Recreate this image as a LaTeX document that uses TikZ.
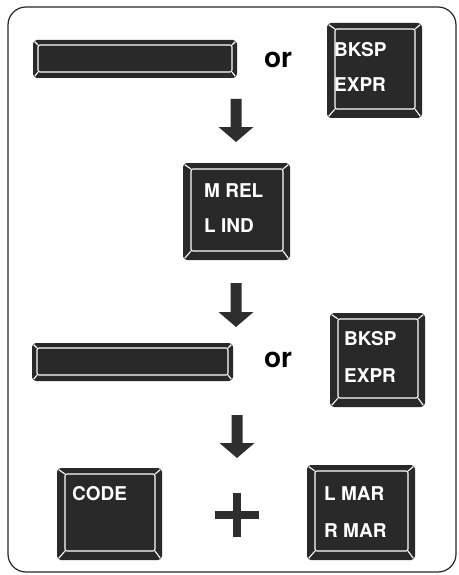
\documentclass[tikz,border=0pt]{standalone}
\usepackage{fontspec}
\setmainfont{TeX Gyre Heros}
\tikzset{
  keyfill/.style={fill=black!84},
  keyline/.style={draw=white, line width=1.1pt, line join=round},
  keytext/.style={text=white, font=\fontsize{19}{21}\selectfont\bfseries, anchor=base west, inner sep=0pt},
  ortext/.style={font=\fontsize{28}{30}\selectfont\bfseries, inner sep=0pt},
  arrowfill/.style={fill=black!82},
  frame/.style={draw=black!85, line width=1.2pt, rounded corners=18pt}
}
\newcommand\kcap[8]{%
  \fill[keyfill, rounded corners=4pt] (#1,#2) rectangle (#3,#4);
  \draw[keyline, rounded corners=2pt] ({#1+#5},{#2+#6}) rectangle ({#3-#7},{#4-#8});
  \draw[keyline] ({#1+#5},{#2+#6}) -- ({#1+1.6},{#2+1.6});
  \draw[keyline] ({#3-#7},{#2+#6}) -- ({#3-1.6},{#2+1.6});
  \draw[keyline] ({#1+#5},{#4-#8}) -- ({#1+1.6},{#4-1.6});
  \draw[keyline] ({#3-#7},{#4-#8}) -- ({#3-1.6},{#4-1.6});
}
\newcommand\darrow[4]{% x, stem top, head top, tip
  \fill[arrowfill] ({#1-5.5},#2) -- ({#1+5.5},#2) -- ({#1+5.5},#3) -- ({#1+17.5},#3)
    -- (#1,#4) -- ({#1-17.5},#3) -- ({#1-5.5},#3) -- cycle;
}
\begin{document}
\begin{tikzpicture}[x=1pt,y=-1pt]
\useasboundingbox (0,0) rectangle (458,575);
\draw[frame] (8,7) rectangle (456,572);

% row 1
\kcap{33}{40}{237}{78}{5}{5}{5}{6}
\node[ortext] (or1) at (278,60) {or};
\kcap{327}{23}{422}{118}{8}{6}{7}{9}
\node[keytext] (bk1) at (334,57) {BKSP};
\node[keytext] (ex1) at (334,92) {EXPR};

\darrow{236}{99}{127}{142}

% row 2
\kcap{183}{163}{290}{260}{8}{6}{7}{9}
\node[keytext] (mrel) at (204,197) {M REL};
\node[keytext] (lind) at (204,232) {L IND};

\darrow{236}{283}{312}{327}

% row 3
\kcap{32}{343}{233}{381}{5}{5}{5}{6}
\node[ortext] (or2) at (278,360) {or};
\kcap{330}{313}{425}{407}{8}{6}{7}{9}
\node[keytext] (bk2) at (344,345) {BKSP};
\node[keytext] (ex2) at (344,382) {EXPR};

\darrow{237}{415}{443}{458}

% row 4
\kcap{57}{468}{162}{560}{8}{6}{7}{9}
\node[keytext] (code) at (72,500) {CODE};
\fill[arrowfill] (233,493) rectangle (241,537);
\fill[arrowfill] (215,511) rectangle (259,519);
\kcap{307}{465}{415}{560}{8}{6}{7}{9}
\node[keytext] (lmar) at (324,500) {L MAR};
\node[keytext] (rmar) at (324,537) {R MAR};
\end{tikzpicture}
\end{document}
